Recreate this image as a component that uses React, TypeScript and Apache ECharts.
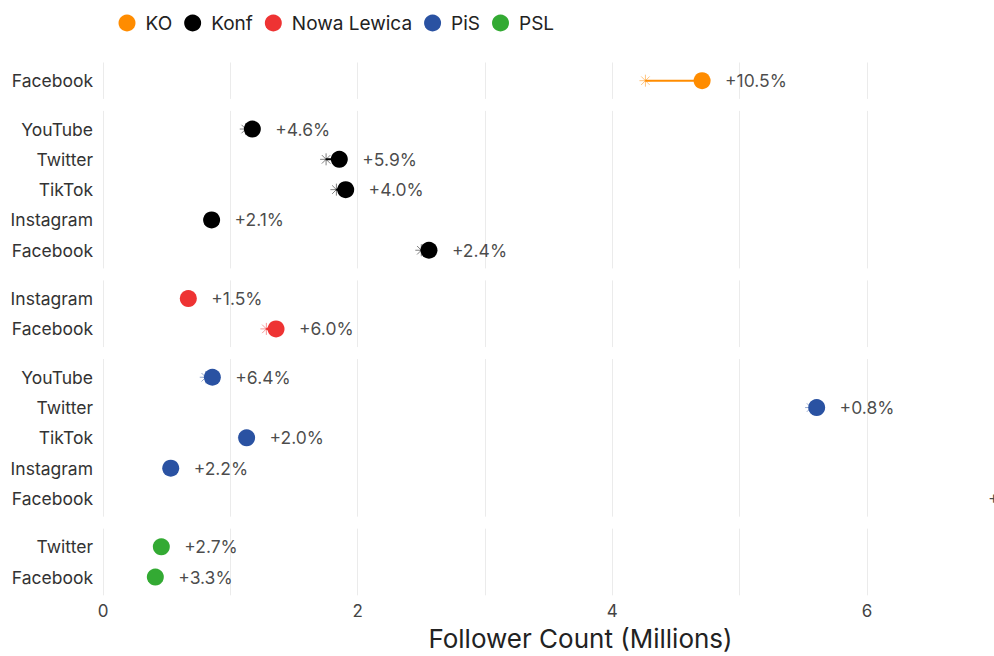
import React, { useEffect, useRef } from "react";
import * as echarts from "echarts";

const PARTIES = ["KO", "Konf", "Nowa Lewica", "PiS", "PSL"];
const COLORS = ["#FF8C00", "#000000", "#EE3333", "#2A52A2", "#33AA33"];

const KO_PLATFORMS = ["Facebook"];
const KO_START = [4.26];
const KO_END = [4.705];
const KO_LABELS = ["+10.5%"];

const KONF_PLATFORMS = ["Facebook", "Instagram", "TikTok", "Twitter", "YouTube"];
const KONF_START = [2.5, 0.835, 1.833, 1.752, 1.121];
const KONF_END = [2.56, 0.853, 1.906, 1.856, 1.173];
const KONF_LABELS = ["+2.4%", "+2.1%", "+4.0%", "+5.9%", "+4.6%"];

const NL_PLATFORMS = ["Facebook", "Instagram"];
const NL_START = [1.283, 0.66];
const NL_END = [1.359, 0.67];
const NL_LABELS = ["+6.0%", "+1.5%"];

const PIS_PLATFORMS = ["Facebook", "Instagram", "TikTok", "Twitter", "YouTube"];
const PIS_START = [7.1, 0.521, 1.106, 5.561, 0.807];
const PIS_END = [7.2, 0.532, 1.128, 5.605, 0.859];
const PIS_LABELS = ["+1.4%", "+2.2%", "+2.0%", "+0.8%", "+6.4%"];

const PSL_PLATFORMS = ["Facebook", "Twitter"];
const PSL_START = [0.398, 0.446];
const PSL_END = [0.411, 0.458];
const PSL_LABELS = ["+3.3%", "+2.7%"];

const X_TICKS = [0, 2, 4, 6];
const X_MAX = 7.5;
const VISIBLE_MAX = 7;

const PANELS = [
  { platforms: KO_PLATFORMS, start: KO_START, end: KO_END, labels: KO_LABELS },
  { platforms: KONF_PLATFORMS, start: KONF_START, end: KONF_END, labels: KONF_LABELS },
  { platforms: NL_PLATFORMS, start: NL_START, end: NL_END, labels: NL_LABELS },
  { platforms: PIS_PLATFORMS, start: PIS_START, end: PIS_END, labels: PIS_LABELS },
  { platforms: PSL_PLATFORMS, start: PSL_START, end: PSL_END, labels: PSL_LABELS },
];

const FONT = "Inter, 'Noto Sans', sans-serif";
const ROW = 30.3;
const PAD = 0.6;
const GAP = 12;
const TOP0 = 62.5;
const LEFT = 103;
const UNIT_PX = 127.33;
const LABEL_NUDGE = 0.18;

const ASTERISK =
  "path://M5,0L5,10M0,5L10,5M1.46,1.46L8.54,8.54M1.46,8.54L8.54,1.46";

export default function App() {
  const ref = useRef<HTMLDivElement>(null);

  useEffect(() => {
    const chart = echarts.init(ref.current!, null, { renderer: "svg" });
    const grids: any[] = [];
    const xAxes: any[] = [];
    const yAxes: any[] = [];
    const series: any[] = [];
    let top = TOP0;
    const last = PANELS.length - 1;
    const widthPx = X_MAX * UNIT_PX;

    PANELS.forEach((p, i) => {
      const n = p.platforms.length;
      const h = (n - 1 + 2 * PAD) * ROW;
      grids.push({
        left: LEFT,
        width: widthPx,
        top,
        height: h,
        containLabel: false,
        outerBoundsMode: "none",
      });
      top += h + GAP;
      const color = COLORS[i];

      xAxes.push({
        type: "value",
        gridIndex: i,
        min: 0,
        max: X_MAX,
        interval: 1,
        axisLine: { show: false },
        axisTick: { show: false },
        splitLine: { show: true, lineStyle: { color: "#EBEBEB", width: 1 } },
        axisLabel: {
          show: i === last,
          customValues: X_TICKS,
          fontSize: 17,
          color: "#444",
          fontFamily: FONT,
          margin: 7,
        },
        name: i === last ? "Follower Count (Millions)" : "",
        nameLocation: "middle",
        nameGap: 30,
        nameTextStyle: { fontSize: 26, color: "#222", fontFamily: FONT },
      });

      yAxes.push({
        type: "value",
        gridIndex: i,
        min: -PAD,
        max: n - 1 + PAD,
        axisLine: { show: false },
        axisTick: { show: false },
        splitLine: { show: false },
        axisLabel: {
          customValues: p.platforms.map((_, j) => j),
          formatter: (v: number) => p.platforms[Math.round(v)] ?? "",
          fontSize: 17.5,
          color: "#333",
          fontFamily: FONT,
          margin: 10,
        },
      });

      series.push({
        type: "custom",
        name: PARTIES[i] + " change",
        xAxisIndex: i,
        yAxisIndex: i,
        clip: true,
        silent: true,
        data: p.platforms.map((_, j) => [p.start[j], p.end[j], j]),
        encode: { x: [0, 1], y: 2 },
        renderItem: (_params: any, api: any) => {
          const a = api.coord([api.value(0), api.value(2)]);
          const b = api.coord([api.value(1), api.value(2)]);
          return {
            type: "line",
            shape: { x1: a[0], y1: a[1], x2: b[0], y2: b[1] },
            style: { stroke: color, lineWidth: 2 },
          };
        },
      });

      series.push({
        type: "scatter",
        name: PARTIES[i] + " start",
        xAxisIndex: i,
        yAxisIndex: i,
        clip: true,
        silent: true,
        symbol: ASTERISK,
        symbolSize: 12,
        itemStyle: { color: "none", borderColor: color, borderWidth: 1, opacity: 0.5 },
        data: p.platforms.map((_, j) => [p.start[j], j]),
      });

      series.push({
        type: "scatter",
        name: PARTIES[i],
        xAxisIndex: i,
        yAxisIndex: i,
        clip: true,
        silent: true,
        symbol: "circle",
        symbolSize: 17,
        itemStyle: { color, opacity: 1 },
        data: p.platforms.map((_, j) => [p.end[j], j]),
      });

      series.push({
        type: "scatter",
        name: PARTIES[i] + " label",
        xAxisIndex: i,
        yAxisIndex: i,
        clip: false,
        silent: true,
        symbolSize: 0,
        itemStyle: { color: "transparent" },
        data: p.platforms.map((_, j) => [
          Math.min(p.end[j] + LABEL_NUDGE, VISIBLE_MAX - 0.05),
          j,
          p.labels[j],
        ]),
        label: {
          show: true,
          position: "right",
          distance: 0,
          formatter: (d: any) => d.value[2],
          fontSize: 17.5,
          color: "#1a1a1a",
          fontFamily: FONT,
        },
      });
    });

    chart.setOption({
      animation: false,
      backgroundColor: "#fff",
      legend: {
        data: PARTIES,
        icon: "circle",
        top: 8.5,
        left: 113.5,
        itemWidth: 27,
        itemHeight: 17,
        itemGap: 12,
        textStyle: { fontSize: 19, color: "#222", fontFamily: FONT },
      },
      grid: grids,
      xAxis: xAxes,
      yAxis: yAxes,
      series,
    });
    return () => chart.dispose();
  }, []);

  return (
    <div
      ref={ref}
      style={{ position: "fixed", left: 0, top: 0, width: 994, height: 656, background: "#fff" }}
    />
  );
}
